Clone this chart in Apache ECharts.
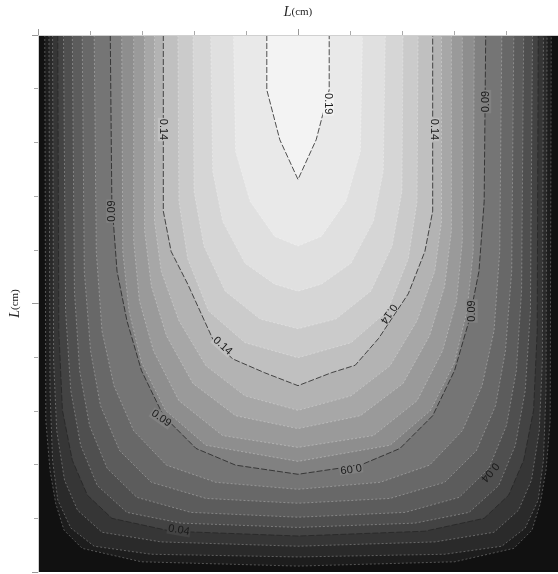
<!DOCTYPE html>
<html>
<head>
<meta charset="utf-8">
<script src="https://cdn.jsdelivr.net/npm/echarts@6/dist/echarts.min.js"></script>
<style>
html,body{margin:0;padding:0;background:#fff;}
#chartsbox{width:558px;height:574px;}
</style>
</head>
<body>
<div id="chartsbox"></div>
<script type="text/javascript">
// iso-line values
var levels = [0.01,0.02,0.03,0.04,0.05,0.06,0.07,0.08,0.09,0.10,0.11,0.12,0.13,0.14,0.15,0.16,0.17,0.18,0.19];

// contour points [across, depth], top-left round to top-right
var c01 = [[1.3,0],[1.5,71.8],[2.3,81],[3.4,87.2],[5,92.2],[8.5,95.6],[19.9,98.1],[50,98.9],[80.1,98.1],[91.5,95.6],[95,92.2],[96.6,87.2],[97.7,81],[98.5,71.8],[98.7,0]];
var c02 = [[2.1,0],[2.3,66.2],[2.8,79.2],[3.8,86.6],[6.3,91.8],[10.8,95.2],[21.8,96.7],[50,97.2],[78.2,96.7],[89.2,95.2],[93.7,91.8],[96.2,86.6],[97.2,79.2],[97.7,66.2],[97.9,0]];
var c03 = [[2.8,0],[3,60.7],[3.6,73.7],[5.1,82.9],[7.6,88.5],[12.3,92.6],[23.7,94.4],[50,95.2],[76.3,94.4],[87.7,92.6],[92.4,88.5],[94.9,82.9],[96.4,73.7],[97,60.7],[97.2,0]];
var c04 = [[3.8,0],[4,55.1],[4.7,69.9],[6.6,79.2],[9.5,85.7],[14.2,90],[25.6,92.4],[50,93.3],[74.4,92.4],[85.8,90],[90.5,85.7],[93.4,79.2],[95.3,69.9],[96,55.1],[96.2,0]];
var c05 = [[4.9,0],[5.3,51.4],[6.3,66.2],[8.2,76.4],[11.4,83.9],[17.1,88.9],[27.5,90.9],[50,91.7],[72.5,90.9],[82.9,88.9],[88.6,83.9],[91.8,76.4],[93.7,66.2],[94.7,51.4],[95.1,0]];
var c06 = [[6.6,0],[7,47.7],[8,62.5],[9.9,72.7],[13.3,80.7],[19,86.1],[29.4,88.9],[50,89.8],[70.6,88.9],[81,86.1],[86.7,80.7],[90.1,72.7],[92,62.5],[93,47.7],[93.4,0]];
var c07 = [[8.5,0],[8.9,44],[10.1,58.8],[12,69],[15.7,77.4],[21.8,83.3],[32.3,86.3],[50,87.2],[67.7,86.3],[78.2,83.3],[84.3,77.4],[88,69],[89.9,58.8],[91.1,44],[91.5,0]];
var c08 = [[10.8,0],[11.2,40.3],[12.3,55.1],[14.6,65.3],[18.4,73.7],[24.7,80.1],[34.2,83.3],[50,84.6],[65.8,83.3],[75.3,80.1],[81.6,73.7],[85.4,65.3],[87.7,55.1],[88.8,40.3],[89.2,0]];
var c09 = [[13.9,0],[14.2,31],[15.2,44],[17.1,53.2],[19.9,62.5],[24.1,70.9],[30.4,77],[38,80.1],[50,81.8],[62,80.1],[69.6,77],[75.9,70.9],[80.1,62.5],[82.9,53.2],[84.8,44],[85.8,31],[86.1,0]];
var c10 = [[16.1,0],[16.3,40.3],[17.5,51.4],[19.9,61],[24.5,69.9],[32.3,76.4],[50,79.4],[67.7,76.4],[75.5,69.9],[80.1,61],[82.5,51.4],[83.7,40.3],[83.9,0]];
var c11 = [[18.4,0],[18.4,38.4],[19.5,49.5],[22.2,58.8],[27.1,68.1],[35.5,74.6],[50,76.8],[64.5,74.6],[72.9,68.1],[77.8,58.8],[80.5,49.5],[81.6,38.4],[81.6,0]];
var c12 = [[20.5,0],[20.5,36.5],[21.8,46.8],[24.7,56],[29.8,64.9],[38,70.9],[50,73.3],[62,70.9],[70.2,64.9],[75.3,56],[78.2,46.8],[79.5,36.5],[79.5,0]];
var c13 = [[22.4,0],[22.4,34.7],[23.7,44],[27.1,53.2],[32.3,61.6],[39.8,67.2],[50,69.9],[60.2,67.2],[67.7,61.6],[72.9,53.2],[76.3,44],[77.6,34.7],[77.6,0]];
var c14 = [[24.1,0],[24.1,32.8],[25.6,40.3],[28.8,46.4],[33.6,56.6],[37.4,60.3],[43.6,62.9],[50,65.3],[56.4,62.9],[61,61.5],[65.5,56.5],[71.2,48.2],[74.4,40.3],[75.9,32.8],[75.9,0]];
var c15 = [[26.9,0],[27.1,31],[28.8,41.7],[32.8,51.4],[39.8,57.3],[50,60.1],[60.2,57.3],[67.2,51.4],[71.2,41.7],[72.9,31],[73.1,0]];
var c16 = [[29.8,0],[30,29.1],[31.9,39.3],[36,47.7],[42.7,52.9],[50,54.7],[57.3,52.9],[64,47.7],[68.1,39.3],[70,29.1],[70.2,0]];
var c17 = [[33.2,0],[33.6,25.4],[35.5,34.7],[39.8,42.5],[45.5,46.4],[50,47.7],[54.5,46.4],[60.2,42.5],[64.5,34.7],[66.4,25.4],[66.8,0]];
var c18 = [[37.6,0],[38,21.7],[40.8,31],[45.5,37.5],[50,39.3],[54.5,37.5],[59.2,31],[62,21.7],[62.4,0]];
var c19 = [[44,0],[44,10.2],[46.5,19.5],[50,26.9],[53.5,19.5],[56,10.2],[56,0]];
var contours = [c01,c02,c03,c04,c05,c06,c07,c08,c09,c10,c11,c12,c13,c14,c15,c16,c17,c18,c19];

// inline labels on the contour lines
var labelText  = ['0.19','0.14','0.14','0.09','0.09','0.09','0.14','0.14','0.09','0.09','0.04','0.04'];
var labelPos   = [[55.8,12.8],[24.1,17.6],[76.1,17.6],[14.2,32.8],[86.1,12.4],[83.5,51.4],[35.5,57.9],[67.4,51.9],[23.7,71.4],[60.2,80.7],[27.1,92.2],[86.9,81.4]];
var labelAngle = [-90,-90,-90,90,90,90,-42,-124,-35,188,-10,230];

// band fills, darkest (outside 0.01) to lightest (inside 0.19)
var greys = ['#111111','#1d1d1d','#2a2a2a','#363636','#434343','#4f4f4f','#5c5c5c','#686868','#757575','#818181',
             '#8e8e8e','#9a9a9a','#a7a7a7','#b3b3b3','#c0c0c0','#cbcbcb','#d6d6d6','#e0e0e0','#e9e9e9','#f3f3f3'];

var myChart = echarts.init(document.getElementById('chartsbox'));

function levelIndex(text) {
    for (var k = 0; k < levels.length; k++) {
        if (levels[k].toFixed(2) === text) { return k; }
    }
    return -1;
}

// pixel distance from a point to a polyline
function distToLine(p, pts) {
    var best = Infinity;
    for (var j = 1; j < pts.length; j++) {
        var a = pts[j - 1], b = pts[j];
        var dx = b[0] - a[0], dy = b[1] - a[1];
        var len = dx * dx + dy * dy;
        var t = len ? ((p[0] - a[0]) * dx + (p[1] - a[1]) * dy) / len : 0;
        t = Math.max(0, Math.min(1, t));
        var ex = a[0] + t * dx - p[0], ey = a[1] + t * dy - p[1];
        best = Math.min(best, Math.sqrt(ex * ex + ey * ey));
    }
    return best;
}

// one filled polygon + its iso-line per level
function renderContour(params, api) {
    var i = api.value(0);
    var pts = contours[i].map(function (p) { return api.coord(p); });
    var dark = labelText.indexOf(levels[i].toFixed(2)) >= 0;
    return {
        type: 'group',
        children: [
            { type: 'polygon', shape: { points: pts }, style: { fill: greys[i + 1] } },
            { type: 'polyline', shape: { points: pts }, style: {
                fill: null,
                stroke: dark ? '#262626' : 'rgba(255,255,255,0.35)',
                lineWidth: 0.8,
                lineDash: dark ? [6, 2] : [2, 2]
            } }
        ]
    };
}

// label cuts a small gap out of its line when it sits on it
function renderLabel(params, api) {
    var i = api.value(0);
    var p = api.coord(labelPos[i]);
    var k = levelIndex(labelText[i]);
    var pts = contours[k].map(function (q) { return api.coord(q); });
    var onLine = distToLine(p, pts) < 5;
    return {
        type: 'text',
        x: p[0], y: p[1],
        rotation: labelAngle[i] * Math.PI / 180,
        style: {
            text: labelText[i],
            fill: '#1a1a1a',
            font: '11px "Liberation Sans", Arial, sans-serif',
            align: 'center',
            verticalAlign: 'middle',
            backgroundColor: onLine ? greys[k + 1] : null,
            padding: [0, 1]
        }
    };
}

var nameStyle = {
    color: '#222',
    rich: {
        i: { fontFamily: '"Liberation Serif", serif', fontStyle: 'italic', fontSize: 14, color: '#222' },
        n: { fontFamily: '"Liberation Serif", serif', fontSize: 11, color: '#222' }
    }
};

var plainAxis = {
    axisLine: { lineStyle: { color: '#d0d0d0', width: 1 } },
    axisTick: { length: 4, lineStyle: { color: '#aaa' } },
    axisLabel: { show: false },
    splitLine: { show: false }
};

var option = {
    animation: false,
    grid: {
        left: 35, top: 33, width: 527, height: 539,
        show: true, backgroundColor: greys[0], borderWidth: 0
    },
    xAxis: [
        Object.assign({
            type: 'value', position: 'top', min: 0, max: 100, interval: 10, z: 10,
            name: '{i|L}{n|(cm)}', nameLocation: 'middle', nameGap: 16, nameTextStyle: nameStyle
        }, plainAxis),
        // longer mid tick
        {
            type: 'value', position: 'top', min: 0, max: 100, interval: 50, z: 10,
            axisLine: { show: false },
            axisTick: { length: 6, lineStyle: { color: '#999' } },
            axisLabel: { show: false },
            splitLine: { show: false }
        }
    ],
    yAxis: [
        Object.assign({
            type: 'value', inverse: true, min: 0, max: 100, interval: 10, z: 10,
            name: '{i|L}{n|(cm)}', nameLocation: 'middle', nameGap: 16, nameRotate: 90, nameTextStyle: nameStyle
        }, plainAxis),
        {
            type: 'value', position: 'left', inverse: true, min: 0, max: 100, interval: 50, z: 10,
            axisLine: { show: false },
            axisTick: { length: 6, lineStyle: { color: '#999' } },
            axisLabel: { show: false },
            splitLine: { show: false }
        }
    ],
    series: [
        {
            type: 'custom', name: 'contours', clip: true,
            renderItem: renderContour,
            data: levels.map(function (v, i) { return [i]; })
        },
        {
            type: 'custom', name: 'labels', clip: true, z: 5,
            renderItem: renderLabel,
            data: labelText.map(function (t, i) { return [i]; })
        }
    ]
};
myChart.setOption(option);
</script>
</body>
</html>
